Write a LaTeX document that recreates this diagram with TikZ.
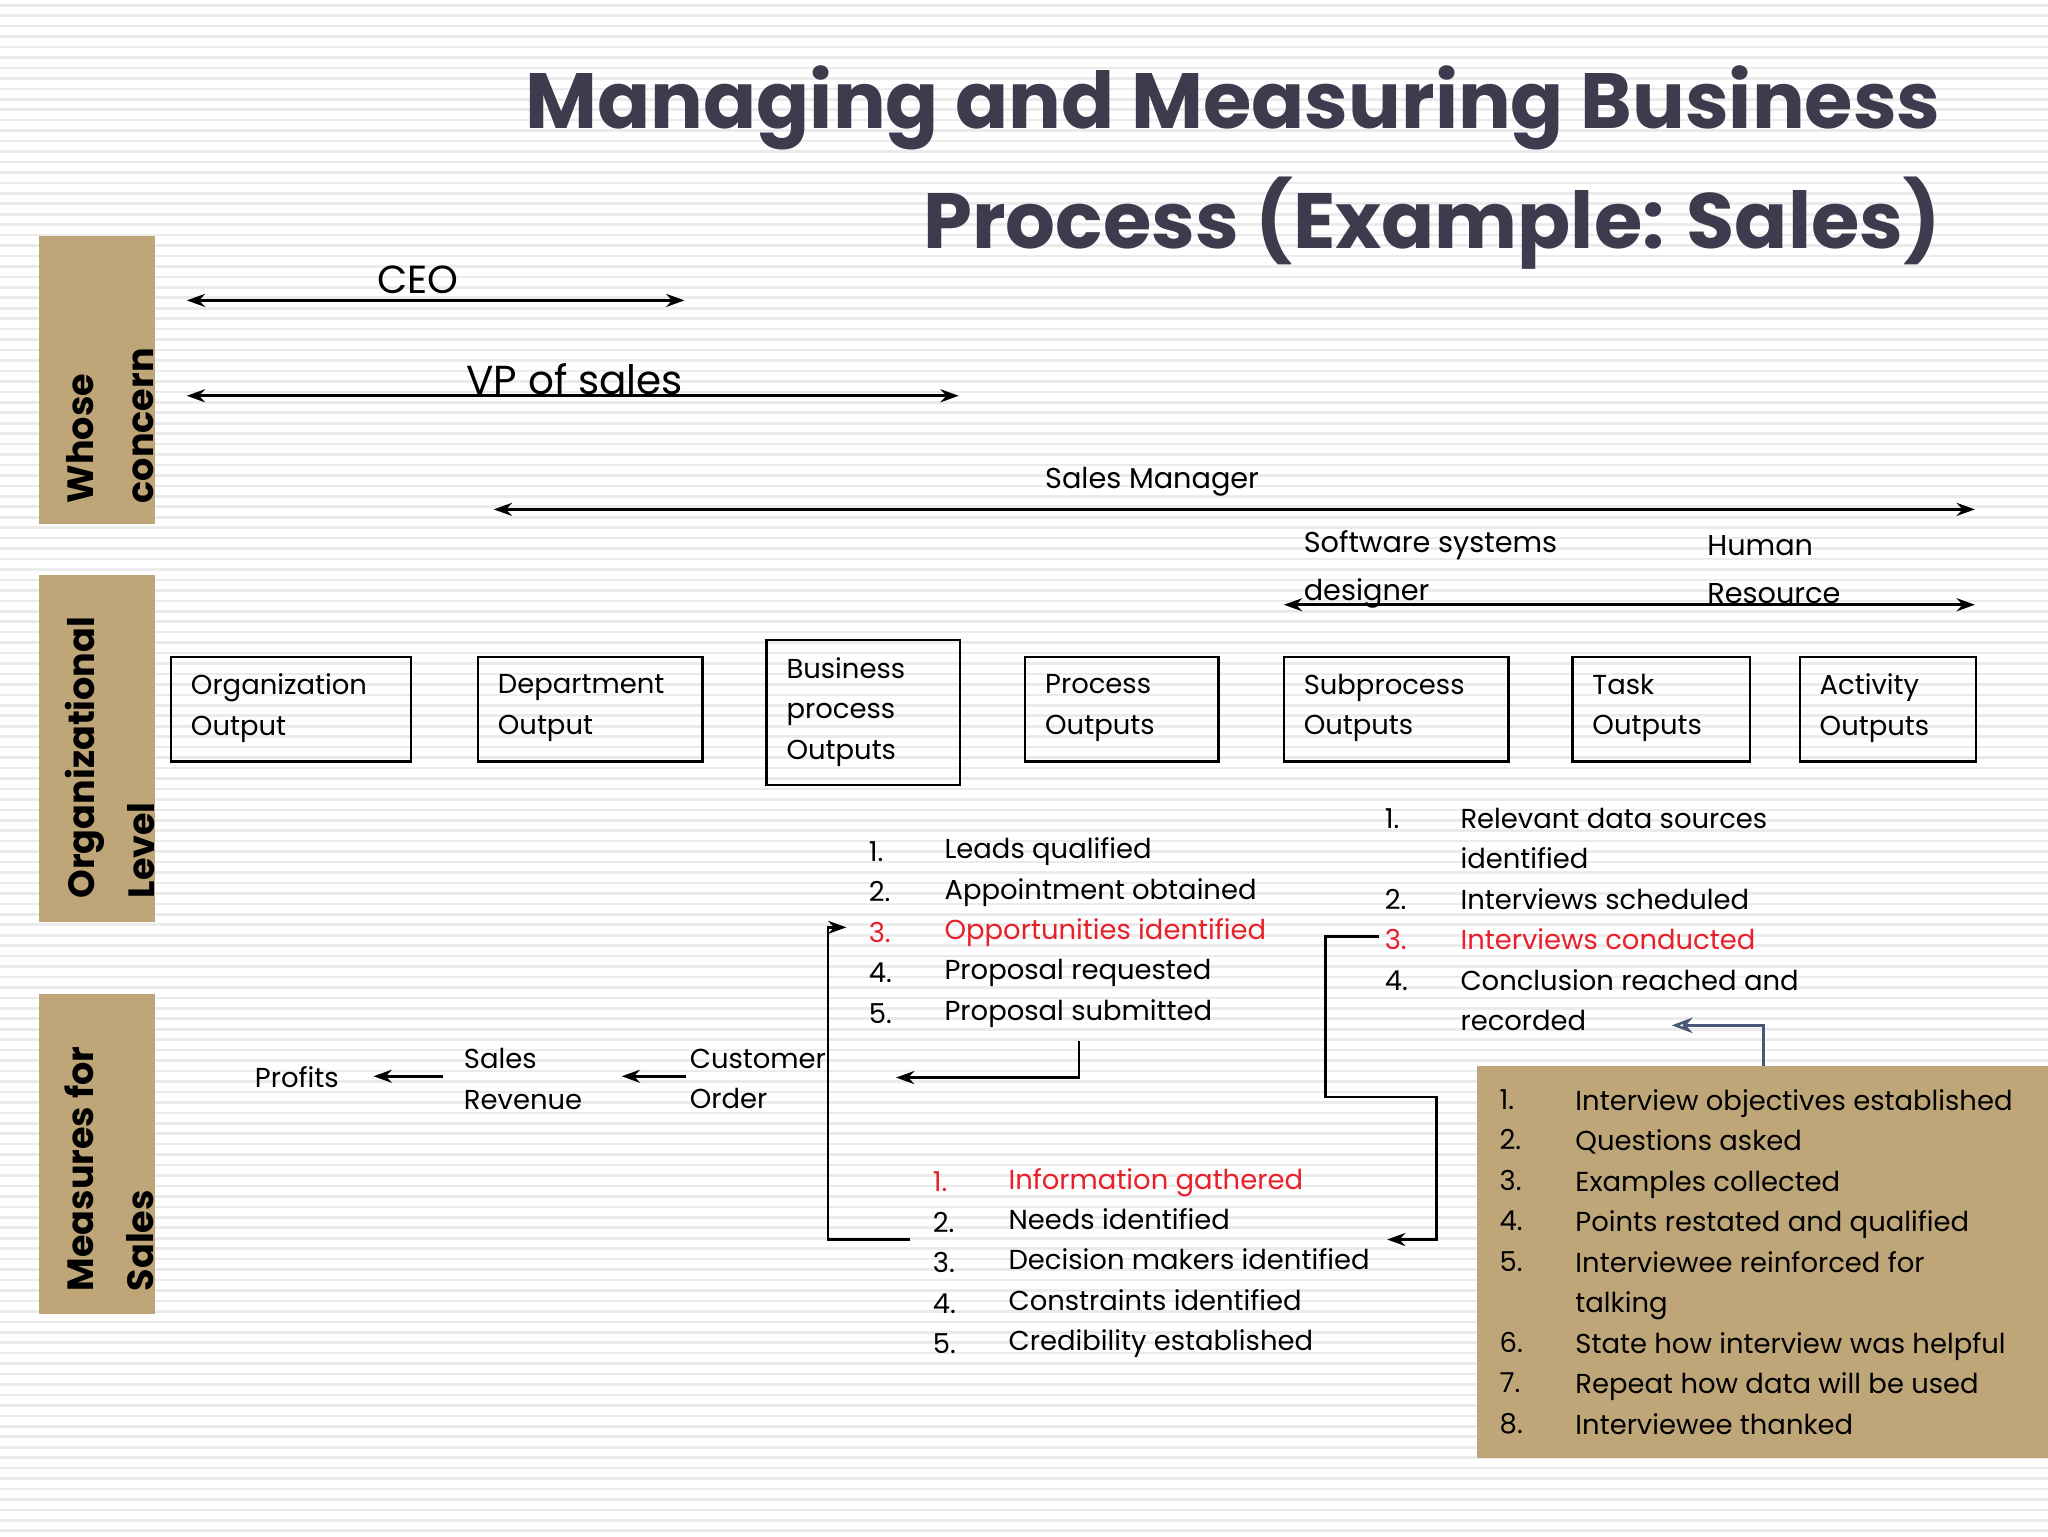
\documentclass[tikz,border=0pt]{standalone}
\usepackage{fontspec}
\setmainfont{Poppins}
\usetikzlibrary{arrows.meta}
\definecolor{tan}{HTML}{BEA678}
\definecolor{ttl}{HTML}{3C3C4E}
\definecolor{red1}{HTML}{E8202A}
\definecolor{bl}{HTML}{4A5878}
\begin{document}
\begin{tikzpicture}[x=1pt,y=-1pt,
 txt/.style={font=\fontsize{21}{31}\selectfont,anchor=west,inner sep=0pt,align=left},
 side/.style={fill=tan,draw=none},
 sidet/.style={rotate=90,font=\fontsize{28}{46}\selectfont\bfseries,align=left,text=black},
 box/.style={draw,line width=1.8pt,minimum height=80pt,anchor=north west,inner sep=0pt},
 arr/.style={-{Stealth[length=14pt,width=10pt]},line width=2pt},
 darr/.style={{Stealth[length=14pt,width=10pt]}-{Stealth[length=14pt,width=10pt]},line width=2pt}]
\useasboundingbox (0,0) rectangle (1568,1176);
\fill[white] (0,0) rectangle (1568,1176);
\foreach \k in {0,...,146} \draw[black!8,line width=2pt] (0,{8*\k+4}) -- (1568,{8*\k+4});
% title
\node[anchor=east,font=\fontsize{60}{92}\selectfont\bfseries,text=ttl,align=right,inner sep=0pt] (title) at (1486,128) {Managing and Measuring Business\\Process (Example: Sales)};
% side bars
\fill[side] (30,181) rectangle (119,401);
\node[sidet] (s1) at (84,326) {Whose\\concern};
\fill[side] (30,440) rectangle (119,706);
\node[sidet] (s2) at (84,580) {Organizational\\Level};
\fill[side] (30,761) rectangle (119,1006);
\node[sidet] (s3) at (84,895) {Measures for\\Sales};
% whose concern arrows
\coordinate (c1) at (143,230); \coordinate (c2) at (524,230);
\draw[darr] (c1) -- (c2);
\node[font=\fontsize{30}{36}\selectfont,inner sep=0pt] (ceo) at (320,214) {CEO};
\coordinate (v1) at (143,303); \coordinate (v2) at (734,303);
\draw[darr] (v1) -- (v2);
\node[font=\fontsize{31}{36}\selectfont,inner sep=0pt] (vp) at (440,290) {VP of sales};
\coordinate (m1) at (378,390); \coordinate (m2) at (1512,390);
\draw[darr] (m1) -- (m2);
\node[txt,font=\fontsize{22}{31}\selectfont] (sm) at (800,369) {Sales Manager};
\coordinate (w1) at (983,463); \coordinate (w2) at (1512,463);
\draw[darr] (w1) -- (w2);
\node[txt,font=\fontsize{22}{37}\selectfont] (ssd) at (998,436) {Software systems\\designer};
\node[txt,font=\fontsize{22}{37}\selectfont] (hr) at (1307,436) {Human\\Resource};
% boxes
\node[box,minimum width=184pt] (b1) at (130,502) {};
\node[txt] at (146,542) {Organization\\Output};
\node[box,minimum width=172pt] (b2) at (365,502) {};
\node[txt] at (381,542) {Department\\Output};
\node[box,minimum width=148pt,minimum height=111pt] (b3) at (586,489) {};
\node[txt] at (602,545) {Business\\process\\Outputs};
\node[box,minimum width=148pt] (b4) at (784,502) {};
\node[txt] at (800,542) {Process\\Outputs};
\node[box,minimum width=172pt] (b5) at (982,502) {};
\node[txt] at (998,542) {Subprocess\\Outputs};
\node[box,minimum width=136pt] (b6) at (1203,502) {};
\node[txt] at (1219,542) {Task\\Outputs};
\node[box,minimum width=135pt] (b7) at (1377,502) {};
\node[txt] at (1393,542) {Activity\\Outputs};
% list A
\node[txt] (an) at (665,714) {1.\\2.\\\textcolor{red1}{3.}\\4.\\5.};
\node[txt] (at) at (723,714) {Leads qualified\\Appointment obtained\\\textcolor{red1}{Opportunities identified}\\Proposal requested\\Proposal submitted};
% list B
\node[txt] (bn) at (1060,704) {1.\\\\2.\\\textcolor{red1}{3.}\\4.\\};
\node[txt] (bt) at (1118,704) {Relevant data sources\\identified\\Interviews scheduled\\\textcolor{red1}{Interviews conducted}\\Conclusion reached and\\recorded};
% list C
\node[txt] (cn) at (714,967) {\textcolor{red1}{1.}\\2.\\3.\\4.\\5.};
\node[txt] (ct) at (772,967) {\textcolor{red1}{Information gathered}\\Needs identified\\Decision makers identified\\Constraints identified\\Credibility established};
% tan box list
\fill[tan] (1131,816) rectangle (1568,1116);
\node[txt] (dn) at (1148,966) {1.\\2.\\3.\\4.\\5.\\\\6.\\7.\\8.};
\node[txt] (dt) at (1206,966) {Interview objectives established\\Questions asked\\Examples collected\\Points restated and qualified\\Interviewee reinforced for\\talking\\State how interview was helpful\\Repeat how data will be used\\Interviewee thanked};
% measures
\node[txt] (pr) at (195,825) {Profits};
\node[txt] (sr) at (355,826) {Sales\\Revenue};
\node[txt] (co) at (528,826) {Customer\\Order};
\coordinate (pa) at (339,824); \coordinate (pb) at (286,824);
\draw[arr] (pa) -- (pb);
\coordinate (qa) at (525,824); \coordinate (qb) at (476,824);
\draw[arr] (qa) -- (qb);
% connectors
\coordinate (k1) at (826,797); \coordinate (k2) at (686,825);
\draw[arr] (k1) |- (k2);
\coordinate (l1) at (697,949); \coordinate (l2) at (634,949); \coordinate (l3) at (648,710);
\draw[arr] (l1) -- (l2) |- (l3);
\coordinate (r1) at (1056,717); \coordinate (r2) at (1015,840); \coordinate (r3) at (1100,840); \coordinate (r4) at (1062,949);
\draw[arr] (r1) -| (r2) -- (r3) |- (r4);
\coordinate (u1) at (1350,816); \coordinate (u2) at (1280,785);
\draw[-{Stealth[length=16pt,width=12pt,open]},line width=2pt,bl] (u1) |- (u2);
\end{tikzpicture}
\end{document}
